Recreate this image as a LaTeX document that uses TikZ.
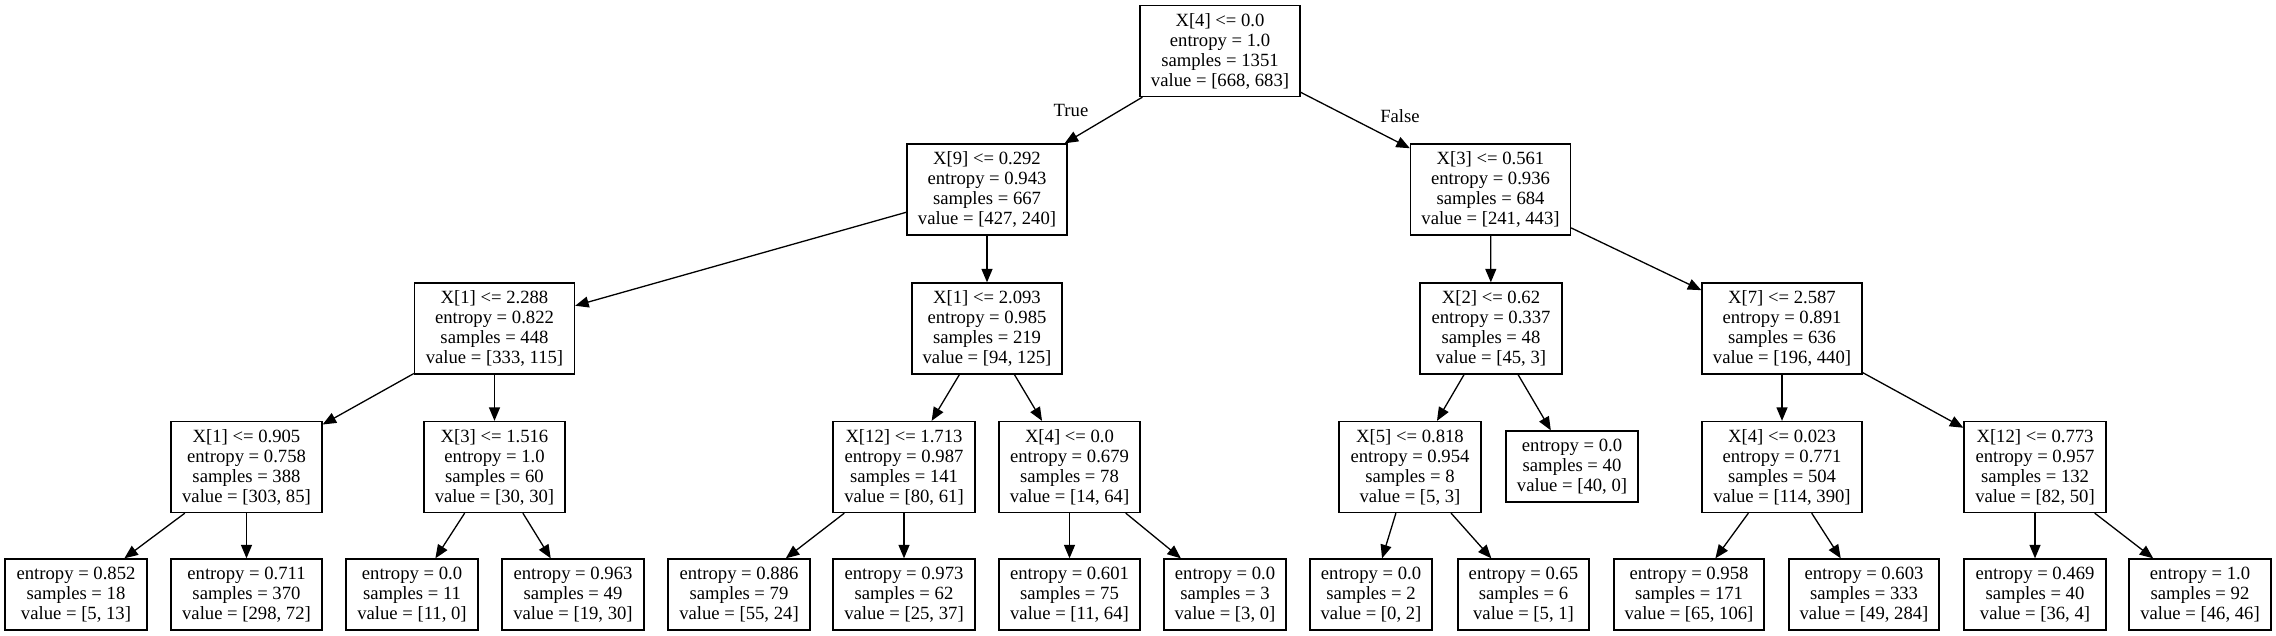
\documentclass[tikz,border=0pt]{standalone}
\usepackage{fontspec}
\setmainfont{Liberation Serif}
\usetikzlibrary{arrows.meta}
\newcommand{\tfont}{\fontsize{18.67pt}{20pt}\selectfont}
\tikzset{
  tn/.style={draw, line width=1.3pt, inner sep=0pt, minimum height=91pt, align=center, font=\tfont},
  lf/.style={tn, minimum height=71pt},
  tedge/.style={-{Triangle[length=13.5pt,width=11pt]}, line width=1.3pt},
  elab/.style={font=\tfont, inner sep=0pt}
}
\begin{document}
\begin{tikzpicture}[x=1pt,y=-1pt]
\useasboundingbox (0,0) rectangle (2276,636);
% row 0
\node[tn, minimum width=160pt] (root) at (1220,51) {X[4] <= 0.0\\entropy = 1.0\\samples = 1351\\value = [668, 683]};
% row 1
\node[tn, minimum width=160pt] (n9) at (987,189.5) {X[9] <= 0.292\\entropy = 0.943\\samples = 667\\value = [427, 240]};
\node[tn, minimum width=160pt] (n3) at (1490.5,189.5) {X[3] <= 0.561\\entropy = 0.936\\samples = 684\\value = [241, 443]};
% row 2
\node[tn, minimum width=160pt] (a) at (494.5,328.5) {X[1] <= 2.288\\entropy = 0.822\\samples = 448\\value = [333, 115]};
\node[tn, minimum width=150pt] (b) at (987,328.5) {X[1] <= 2.093\\entropy = 0.985\\samples = 219\\value = [94, 125]};
\node[tn, minimum width=142pt] (c) at (1491,328.5) {X[2] <= 0.62\\entropy = 0.337\\samples = 48\\value = [45, 3]};
\node[tn, minimum width=160pt] (d) at (1782,328.5) {X[7] <= 2.587\\entropy = 0.891\\samples = 636\\value = [196, 440]};
% row 3
\node[tn, minimum width=151pt] (e) at (246.5,467) {X[1] <= 0.905\\entropy = 0.758\\samples = 388\\value = [303, 85]};
\node[tn, minimum width=141pt] (f) at (494.5,467) {X[3] <= 1.516\\entropy = 1.0\\samples = 60\\value = [30, 30]};
\node[tn, minimum width=142pt] (g) at (904,467) {X[12] <= 1.713\\entropy = 0.987\\samples = 141\\value = [80, 61]};
\node[tn, minimum width=141pt] (h) at (1069.5,467) {X[4] <= 0.0\\entropy = 0.679\\samples = 78\\value = [14, 64]};
\node[tn, minimum width=142pt] (i) at (1410,467) {X[5] <= 0.818\\entropy = 0.954\\samples = 8\\value = [5, 3]};
\node[lf, minimum width=132pt] (j) at (1572,466.5) {entropy = 0.0\\samples = 40\\value = [40, 0]};
\node[tn, minimum width=160pt] (k) at (1782,467) {X[4] <= 0.023\\entropy = 0.771\\samples = 504\\value = [114, 390]};
\node[tn, minimum width=142pt] (l) at (2035,467) {X[12] <= 0.773\\entropy = 0.957\\samples = 132\\value = [82, 50]};
% row 4
\node[lf, minimum width=142pt] (l1) at (76,594.5) {entropy = 0.852\\samples = 18\\value = [5, 13]};
\node[lf, minimum width=151pt] (l2) at (246.5,594.5) {entropy = 0.711\\samples = 370\\value = [298, 72]};
\node[lf, minimum width=132pt] (l3) at (412,594.5) {entropy = 0.0\\samples = 11\\value = [11, 0]};
\node[lf, minimum width=142pt] (l4) at (573,594.5) {entropy = 0.963\\samples = 49\\value = [19, 30]};
\node[lf, minimum width=142pt] (l5) at (739,594.5) {entropy = 0.886\\samples = 79\\value = [55, 24]};
\node[lf, minimum width=142pt] (l6) at (904,594.5) {entropy = 0.973\\samples = 62\\value = [25, 37]};
\node[lf, minimum width=141pt] (l7) at (1069.5,594.5) {entropy = 0.601\\samples = 75\\value = [11, 64]};
\node[lf, minimum width=122pt] (l8) at (1225,594.5) {entropy = 0.0\\samples = 3\\value = [3, 0]};
\node[lf, minimum width=122pt] (l9) at (1371,594.5) {entropy = 0.0\\samples = 2\\value = [0, 2]};
\node[lf, minimum width=131pt] (l10) at (1523.5,594.5) {entropy = 0.65\\samples = 6\\value = [5, 1]};
\node[lf, minimum width=150pt] (l11) at (1689,594.5) {entropy = 0.958\\samples = 171\\value = [65, 106]};
\node[lf, minimum width=150pt] (l12) at (1864,594.5) {entropy = 0.603\\samples = 333\\value = [49, 284]};
\node[lf, minimum width=142pt] (l13) at (2035,594.5) {entropy = 0.469\\samples = 40\\value = [36, 4]};
\node[lf, minimum width=142pt] (l14) at (2200,594.5) {entropy = 1.0\\samples = 92\\value = [46, 46]};
% edge labels
\node[elab] (tl) at (1071,110) {True};
\node[elab] (fl) at (1400,116) {False};
% edges
\draw[tedge] (root) -- (n9);
\draw[tedge] (root) -- (n3);
\draw[tedge] (n9) -- (a);
\draw[tedge] (n9) -- (b);
\draw[tedge] (n3) -- (c);
\draw[tedge] (n3) -- (d);
\draw[tedge] (a) -- (e);
\draw[tedge] (a) -- (f);
\draw[tedge] (b) -- (g);
\draw[tedge] (b) -- (h);
\draw[tedge] (c) -- (i);
\draw[tedge] (c) -- (j);
\draw[tedge] (d) -- (k);
\draw[tedge] (d) -- (l);
\draw[tedge] (e) -- (l1);
\draw[tedge] (e) -- (l2);
\draw[tedge] (f) -- (l3);
\draw[tedge] (f) -- (l4);
\draw[tedge] (g) -- (l5);
\draw[tedge] (g) -- (l6);
\draw[tedge] (h) -- (l7);
\draw[tedge] (h) -- (l8);
\draw[tedge] (i) -- (l9);
\draw[tedge] (i) -- (l10);
\draw[tedge] (k) -- (l11);
\draw[tedge] (k) -- (l12);
\draw[tedge] (l) -- (l13);
\draw[tedge] (l) -- (l14);
\end{tikzpicture}
\end{document}
